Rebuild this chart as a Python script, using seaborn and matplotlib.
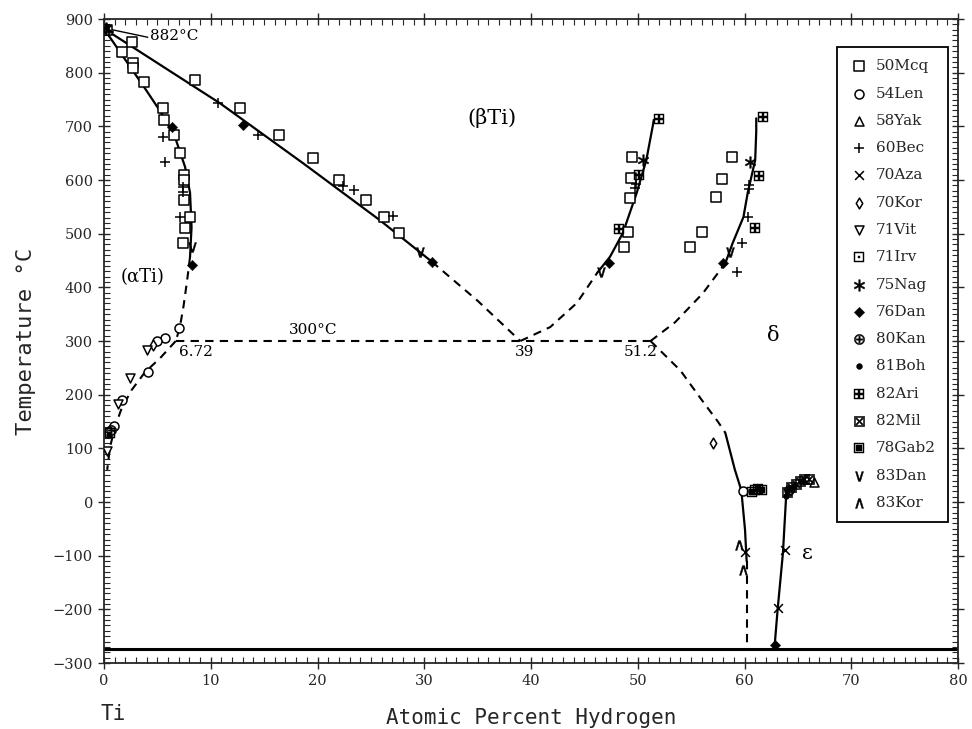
import numpy as np
import pandas as pd
import matplotlib
matplotlib.use("Agg")
import matplotlib.pyplot as plt
from matplotlib.ticker import MultipleLocator
import seaborn as sns

# ---------------- phase-boundary curves (at.% H, deg C) ----------------
alpha_solvus_x = [0, 1, 2, 3, 4, 5.4, 6.65, 7.6, 8.06, 8.2, 8.06]
alpha_solvus_t = [882, 853, 824, 795, 766, 724, 680, 624, 576, 512, 457]
alpha_dash_x = [8.06, 7.8, 7.45, 7.1, 6.72]
alpha_dash_t = [457, 415, 365, 325, 300]
alpha_low_x = [6.72, 5.25, 3.84, 2.6, 1.66, 1.03, 0.56, 0.3]
alpha_low_t = [300, 268, 242, 209, 175, 140, 102, 60]
beta_transus_x = [0, 10.87, 18.67, 25.85, 30.7]
beta_transus_t = [882, 743, 631, 525, 448]
beta_dash_x = [30.7, 35.0, 39.0]
beta_dash_t = [448, 375, 300]
bd_dash_x = [39.0, 41.8, 44.3, 46.2]
bd_dash_t = [300, 326, 371, 427]
bd_solid_x = [46.2, 47.4, 48.6, 49.9, 50.8, 51.4, 51.5]
bd_solid_t = [427, 457, 501, 576, 637, 700, 712]
delta_solid_x = [58.2, 58.9, 59.9, 60.3, 61.0, 61.1, 61.1]
delta_solid_t = [445, 483, 531, 576, 637, 690, 715]
delta_dash_x = [51.2, 53.5, 56.1, 58.2]
delta_dash_t = [300, 335, 389, 445]
de_dash_x = [51.2, 54.0, 56.0, 57.5, 58.2]
de_dash_t = [300, 245, 190, 150, 129]
de_solid_x = [58.2, 59.1, 59.7, 60.05, 60.2]
de_solid_t = [129, 60, 22, -52, -110]
de_low_x = [60.2, 60.2]
de_low_t = [-110, -273]
eps_x = [62.8, 63.1, 63.6, 63.9, 64.2]
eps_t = [-273, -201, -95, 11, 30]
eutectoid_x = [6.72, 51.2]
eutectoid_t = [300, 300]
zero_k_x = [0, 80]
zero_k_t = [-273, -273]

# ---------------- experimental data per source ----------------
mcq_x = [0.3, 1.66, 2.7, 2.7, 3.77, 5.5, 5.6, 6.6, 7.1, 7.5, 7.5, 7.5, 8.06, 7.6, 7.4,
         2.6, 8.5, 12.7, 16.4, 19.6, 22.0, 24.5, 26.2, 27.6,
         49.5, 49.4, 49.3, 49.1, 48.7, 58.8, 57.9, 57.3, 56.0, 54.9]
mcq_t = [880, 839, 818, 809, 783, 734, 712, 684, 650, 609, 600, 563, 531, 510, 482,
         858, 786, 734, 684, 641, 600, 563, 531, 502,
         643, 604, 567, 503, 475, 642, 602, 568, 503, 475]
len_x = [7.05, 5.7, 5.0, 4.1, 1.7, 0.9, 59.9]
len_t = [324, 305, 300, 243, 190, 142, 21]
yak_x = [66.5]
yak_t = [38]
bec_x = [0.5, 5.5, 5.7, 7.4, 7.4, 7.1, 10.7, 14.4, 22.4, 23.4, 27.1,
         49.7, 49.8, 60.4, 60.4, 60.3, 59.8, 59.3]
bec_t = [876, 680, 634, 587, 578, 531, 743, 684, 589, 581, 533,
         585, 592, 583, 590, 531, 483, 429]
aza_x = [60.05, 63.1, 63.8]
aza_t = [-93, -197, -89]
kor70_x = [57.05, 4.6]
kor70_t = [110, 292]
vit_x = [4.0, 2.4, 1.3, 0.3]
vit_t = [284, 232, 182, 95]
irv_x = [61.0, 0.6]
irv_t = [22, 128]
nag_x = [50.5, 60.5, 0.2]
nag_t = [637, 634, 884]
dan76_x = [6.4, 8.2, 13.0, 30.7, 47.3, 58.0, 62.9]
dan76_t = [699, 442, 702, 448, 445, 445, -266]
kan_x = [0.7, 64.2]
kan_t = [135, 22]
boh_x = [0.5, 63.9, 64.6, 65.3]
boh_t = [125, 12, 30, 40]
ari_x = [52.0, 50.1, 48.2, 61.7, 61.4, 61.0]
ari_t = [714, 610, 509, 718, 608, 510]
mil_x = [64.0, 64.4, 64.8, 65.2, 65.6, 66.0]
mil_t = [18, 28, 34, 40, 42, 42]
gab_x = [60.7, 61.3, 61.6]
gab_t = [19, 24, 22]
dan83_x = [8.2, 29.6, 46.6, 58.6, 0.1]
dan83_t = [475, 466, 429, 466, 882]
kor83_x = [59.9, 59.5, 0.2]
kor83_t = [-127, -80, 883]

x_ticks = [0, 10, 20, 30, 40, 50, 60, 70, 80]
y_ticks = [-300, -200, -100, 0, 100, 200, 300, 400, 500, 600, 700, 800, 900]

sources = [
    ("50Mcq", mcq_x, mcq_t),
    ("54Len", len_x, len_t),
    ("58Yak", yak_x, yak_t),
    ("60Bec", bec_x, bec_t),
    ("70Aza", aza_x, aza_t),
    ("70Kor", kor70_x, kor70_t),
    ("71Vit", vit_x, vit_t),
    ("71Irv", irv_x, irv_t),
    ("75Nag", nag_x, nag_t),
    ("76Dan", dan76_x, dan76_t),
    ("80Kan", kan_x, kan_t),
    ("81Boh", boh_x, boh_t),
    ("82Ari", ari_x, ari_t),
    ("82Mil", mil_x, mil_t),
    ("78Gab2", gab_x, gab_t),
    ("83Dan", dan83_x, dan83_t),
    ("83Kor", kor83_x, kor83_t),
]

# marker styles: (marker, size, open?)
styles = {
    "50Mcq": ("s", 48, True),
    "54Len": ("o", 42, True),
    "58Yak": ("^", 42, True),
    "60Bec": ("+", 45, False),
    "70Aza": ("x", 40, False),
    "70Kor": ("d", 30, True),
    "71Vit": ("v", 42, True),
    "71Irv": ("$\u22a1$", 55, False),
    "75Nag": ("$\u2217$", 70, False),
    "76Dan": ("D", 28, False),
    "80Kan": ("$\u2295$", 55, False),
    "81Boh": ("o", 18, False),
    "82Ari": ("$\u229e$", 60, False),
    "82Mil": ("$\u22a0$", 55, False),
    "78Gab2": ("$\u25a3$", 55, False),
    "83Dan": ("$\\vee$", 50, False),
    "83Kor": ("$\\wedge$", 50, False),
}

sns.set_style("ticks")
plt.rcParams["font.family"] = ["DejaVu Serif", "DejaVu Sans"]
plt.rcParams["mathtext.fontset"] = "dejavusans"

fig = plt.figure(figsize=(9.72, 7.29), dpi=100)
ax = fig.add_axes([0.1070, 0.0905, 0.8786, 0.8834])

solid = [(alpha_solvus_x, alpha_solvus_t), (beta_transus_x, beta_transus_t),
         (bd_solid_x, bd_solid_t), (delta_solid_x, delta_solid_t),
         (de_solid_x, de_solid_t), (eps_x, eps_t)]
dashed = [(alpha_dash_x, alpha_dash_t), (alpha_low_x, alpha_low_t),
          (beta_dash_x, beta_dash_t), (bd_dash_x, bd_dash_t),
          (delta_dash_x, delta_dash_t), (de_dash_x, de_dash_t),
          (de_low_x, de_low_t), (eutectoid_x, eutectoid_t)]

for xs, ts in solid:
    sns.lineplot(x=xs, y=ts, sort=False, estimator=None, color="black",
                 lw=1.6, ax=ax)
for xs, ts in dashed:
    sns.lineplot(x=xs, y=ts, sort=False, estimator=None, color="black",
                 lw=1.5, linestyle=(0, (4, 3)), ax=ax)
sns.lineplot(x=zero_k_x, y=zero_k_t, sort=False, estimator=None,
             color="black", lw=2.2, ax=ax)

handles = []
for name, xs, ts in sources:
    mk, sz, is_open = styles[name]
    df = pd.DataFrame({"x": xs, "t": ts})
    if mk in ("+", "x"):
        sns.scatterplot(data=df, x="x", y="t", marker=mk, s=sz, color="black",
                        linewidth=1.1, ax=ax, zorder=4)
    elif is_open:
        sns.scatterplot(data=df, x="x", y="t", marker=mk, s=sz,
                        facecolor="white", edgecolor="black",
                        linewidth=1.1, ax=ax, zorder=4)
    else:
        sns.scatterplot(data=df, x="x", y="t", marker=mk, s=sz,
                        color="black", edgecolor="black",
                        linewidth=0.3, ax=ax, zorder=4)
    handles.append(ax.collections[-1])

ax.set_xlim(0, 80)
ax.set_ylim(-300, 900)
ax.set_xticks(x_ticks)
ax.set_yticks(y_ticks)
ax.xaxis.set_minor_locator(MultipleLocator(1))
ax.yaxis.set_minor_locator(MultipleLocator(10))
ax.tick_params(which="major", direction="inout", length=9, width=1.0,
               top=True, right=True, labelsize=10.5)
ax.tick_params(which="minor", direction="in", length=4, width=0.8,
               top=True, right=True)
for sp in ax.spines.values():
    sp.set_linewidth(1.3)
    sp.set_visible(True)

ax.set_xlabel("Atomic Percent Hydrogen", family="DejaVu Sans Mono",
              fontsize=15, labelpad=14)
ax.set_ylabel("Temperature \u00b0C", family="DejaVu Sans Mono",
              fontsize=16, labelpad=12)

txt = dict(color="black")
ax.plot([0.3, 4.1], [882, 866], color="black", lw=1.0)
ax.text(4.3, 868, "882\u00b0C", fontsize=11, ha="left", va="center", **txt)
ax.text(3.65, 419, "(\u03b1Ti)", fontsize=13, ha="center", va="center", **txt)
ax.text(36.3, 716, "(\u03b2Ti)", fontsize=15, ha="center", va="center", **txt)
ax.text(19.6, 320, "300\u00b0C", fontsize=11, ha="center", va="center", **txt)
ax.text(8.6, 280, "6.72", fontsize=11, ha="center", va="center", **txt)
ax.text(39.4, 280, "39", fontsize=11, ha="center", va="center", **txt)
ax.text(50.3, 280, "51.2", fontsize=11, ha="center", va="center", **txt)
ax.text(62.7, 311, "\u03b4", fontsize=15, ha="center", va="center", **txt)
ax.text(65.9, -95, "\u03b5", fontsize=15, ha="center", va="center", **txt)
fig.text(113 / 972, 1 - 714 / 729, "Ti", family="DejaVu Sans Mono",
         fontsize=15, ha="center", va="center")

leg = ax.legend(handles, [s[0] for s in sources], loc="upper right",
                bbox_to_anchor=(0.988, 0.9565), borderaxespad=0.0,
                frameon=True, fancybox=False,
                edgecolor="black", framealpha=1, fontsize=11,
                labelspacing=0.87, handletextpad=0.5, borderpad=0.8,
                scatterpoints=1, handlelength=1.2)
leg.get_frame().set_linewidth(1.3)

fig.savefig("out.png", dpi=100)
